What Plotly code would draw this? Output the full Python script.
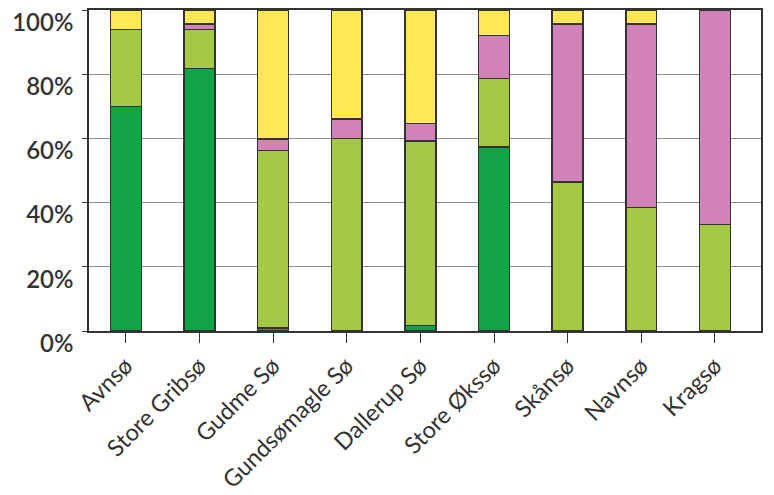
import plotly.graph_objects as go

categories = ["Avnsø", "Store Gribsø", "Gudme Sø", "Gundsømagle Sø", "Dallerup Sø",
              "Store Økssø", "Skånsø", "Navnsø", "Kragsø"]
dark_green = [70, 81.7, 1.0, None, 1.7, 57.4, None, None, None]
light_green = [24, 12.2, 55.3, 60, 57.5, 21.2, 46.4, 38.5, 33.2]
pink = [None, 1.8, 3.5, 6, 5.5, 13.4, 49.2, 57.1, 66.8]
yellow = [6, 4.3, 40.2, 34, 35.3, 8, 4.4, 4.4, None]
y_tick_values = [0, 20, 40, 60, 80, 100]
y_tick_labels = ["0%", "20%", "40%", "60%", "80%", "100%"]

series = [
    ("Mørkegrøn", dark_green, "#12A346"),
    ("Lysegrøn", light_green, "#A3C945"),
    ("Lilla", pink, "#D182B8"),
    ("Gul", yellow, "#FFE854"),
]

fig = go.Figure()
for name, vals, col in series:
    fig.add_trace(go.Bar(
        x=list(range(len(categories))), y=vals, name=name,
        marker=dict(color=col, line=dict(color="#333333", width=1.5)),
        width=0.42,
    ))

font_family = "Lato, 'Open Sans', sans-serif"
# page body has an 8px default margin; size the figure so the plot lands where the reference has it
fig.update_layout(
    barmode="stack",
    width=758, height=487,
    margin=dict(l=81, r=5, t=2, b=164),
    plot_bgcolor="white", paper_bgcolor="white",
    showlegend=False,
    font=dict(family=font_family, color="#333333"),
)
fig.update_xaxes(
    tickmode="array", tickvals=list(range(len(categories))), ticktext=categories,
    range=[-0.5, 8.626], tickson="boundaries",
    ticks="outside", ticklen=10, tickwidth=1.2, tickcolor="#333333",
    showline=True, linecolor="#333333", linewidth=1.5, mirror=True,
    tickangle=-45, tickfont=dict(size=23.5, family=font_family, color="#333333"),
    showgrid=False, automargin=False,
)
fig.update_yaxes(
    range=[0, 100], tickmode="array", tickvals=y_tick_values, ticktext=y_tick_labels,
    ticks="outside", ticklen=5, tickwidth=1.2, tickcolor="#333333",
    showline=True, linecolor="#333333", linewidth=1.5, mirror=True,
    showgrid=True, gridcolor="#8a8a8a", gridwidth=1,
    tickfont=dict(size=24, family=font_family, color="#333333", weight=600),
    ticklabelposition="outside bottom", ticklabeloverflow="allow",
    ticklabelshift=-5,
    ticklabelstandoff=9, zeroline=False, automargin=False,
)
fig.write_html("out.html")
